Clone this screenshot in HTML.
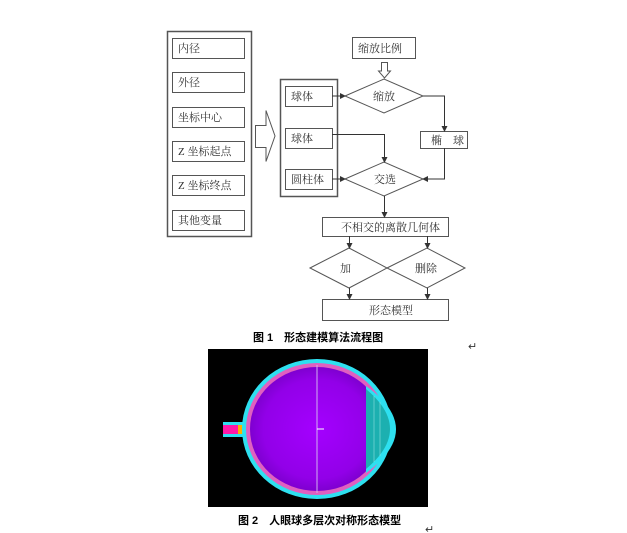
<!DOCTYPE html>
<html><head><meta charset="utf-8"><style>
html,body{margin:0;padding:0;background:#fff;width:627px;height:533px;overflow:hidden}
svg{display:block}
text{font-family:"Liberation Serif","Noto Serif CJK SC",serif;font-size:11px;fill:#333}
.cap{font-family:"Liberation Sans","Noto Sans CJK SC",sans-serif;font-size:11px;fill:#000;font-weight:bold}
</style></head><body>
<svg width="627" height="533" viewBox="0 0 627 533" xmlns="http://www.w3.org/2000/svg">
<defs>
<marker id="a" markerWidth="6" markerHeight="6" refX="5" refY="3" orient="auto"><path d="M0,0 L6,3 L0,6z" fill="#333"/></marker>
<radialGradient id="g" cx="0.5" cy="0.5" r="0.5"><stop offset="0" stop-color="#a400ff"/><stop offset="0.8" stop-color="#9200e8"/><stop offset="1" stop-color="#7e00d0"/></radialGradient>
</defs>
<g fill="none" stroke="#555" stroke-width="1">
<rect x="167.5" y="31.5" width="84" height="205" stroke-width="1.5"/>
<rect x="172.5" y="38.5" width="72" height="20"/>
<rect x="172.5" y="72.5" width="72" height="20"/>
<rect x="172.5" y="107.5" width="72" height="20"/>
<rect x="172.5" y="141.5" width="72" height="20"/>
<rect x="172.5" y="175.5" width="72" height="20"/>
<rect x="172.5" y="210.5" width="72" height="20"/>
<path d="M255.5,125.5 H266 V110.5 L275,136 L266,161.5 V147.5 H255.5z"/>
<rect x="280.5" y="79.5" width="57" height="117" stroke-width="1.5"/>
<rect x="285.5" y="86.5" width="47" height="20"/>
<rect x="285.5" y="128.5" width="47" height="20"/>
<rect x="285.5" y="169.5" width="47" height="20"/>
<rect x="352.5" y="37.5" width="63" height="21"/>
<path d="M381.5,62.5 H387.5 V71 H390.5 L384.5,78 L378.5,71 H381.5z"/>
<path d="M345,96 L384,79 L423,96 L384,113z"/>
<rect x="420.5" y="131.5" width="47" height="17"/>
<path d="M345,179 L384,162 L423,179 L384,196z"/>
<rect x="322.5" y="217.5" width="126" height="19"/>
<path d="M310,268 L349,248 L387,268 L349,288z"/>
<path d="M387,268 L427,248 L465,268 L427,288z"/>
<rect x="322.5" y="299.5" width="126" height="21"/>
</g>
<g fill="none" stroke="#333" stroke-width="1" marker-end="url(#a)">
<path d="M332,96 H345"/>
<path d="M423,96 H444.5 V131"/>
<path d="M332,134.5 H384.5 V162"/>
<path d="M332,179 H345"/>
<path d="M444.5,148 V179 H423"/>
<path d="M384.5,196 V217"/>
<path d="M349.5,236 V248"/>
<path d="M427.5,236 V248"/>
<path d="M349.5,288 V299"/>
<path d="M427.5,288 V299"/>
</g>
<text x="178" y="52">内径</text>
<text x="178" y="86">外径</text>
<text x="178" y="121">坐标中心</text>
<text x="178" y="155">Z 坐标起点</text>
<text x="178" y="189">Z 坐标终点</text>
<text x="178" y="224">其他变量</text>
<text x="291" y="100">球体</text>
<text x="291" y="142">球体</text>
<text x="291" y="183">圆柱体</text>
<text x="358" y="52" fill="#777">缩放比例</text>
<text x="373" y="100">缩放</text>
<text x="431" y="144">椭　球</text>
<text x="374" y="183">交选</text>
<text x="341" y="231">不相交的离散几何体</text>
<text x="340" y="272">加</text>
<text x="415" y="272">删除</text>
<text x="369" y="314" fill="#777">形态模型</text>
<text class="cap" x="253" y="341">图 1　形态建模算法流程图</text>
<text x="468" y="350" fill="#888" font-size="10">↵</text>
<rect x="208" y="349" width="220" height="158" fill="#000"/>
<rect x="223" y="422" width="24" height="15" fill="#2ee0f0"/>
<rect x="223" y="425" width="15" height="9" fill="#ff1aa8"/>
<rect x="238" y="425" width="4" height="9" fill="#ffb000"/>
<rect x="242" y="425" width="3" height="9" fill="#6cff40"/>
<ellipse cx="317" cy="429" rx="75" ry="70" fill="#2ee0f0"/>
<ellipse cx="317" cy="429" rx="71" ry="66" fill="#e060c0"/>
<ellipse cx="317" cy="429" rx="67" ry="62" fill="url(#g)"/>
<path d="M366,386 Q426,429 366,473z" fill="#2ee0f0"/>
<path d="M366,389 Q414,429 366,469z" fill="#1cb0b0"/>
<path d="M374,396 L374,462 M380,402 L380,456" stroke="#8fe0e0" stroke-width="0.6" fill="none"/>
<line x1="317" y1="365" x2="317" y2="493" stroke="#d0b0f0" stroke-width="1"/>
<path d="M317,429 H324" stroke="#fff" stroke-width="1"/>
<text class="cap" x="238" y="524">图 2　人眼球多层次对称形态模型</text>
<text x="425" y="533" fill="#888" font-size="10">↵</text>
</svg>
</body></html>
